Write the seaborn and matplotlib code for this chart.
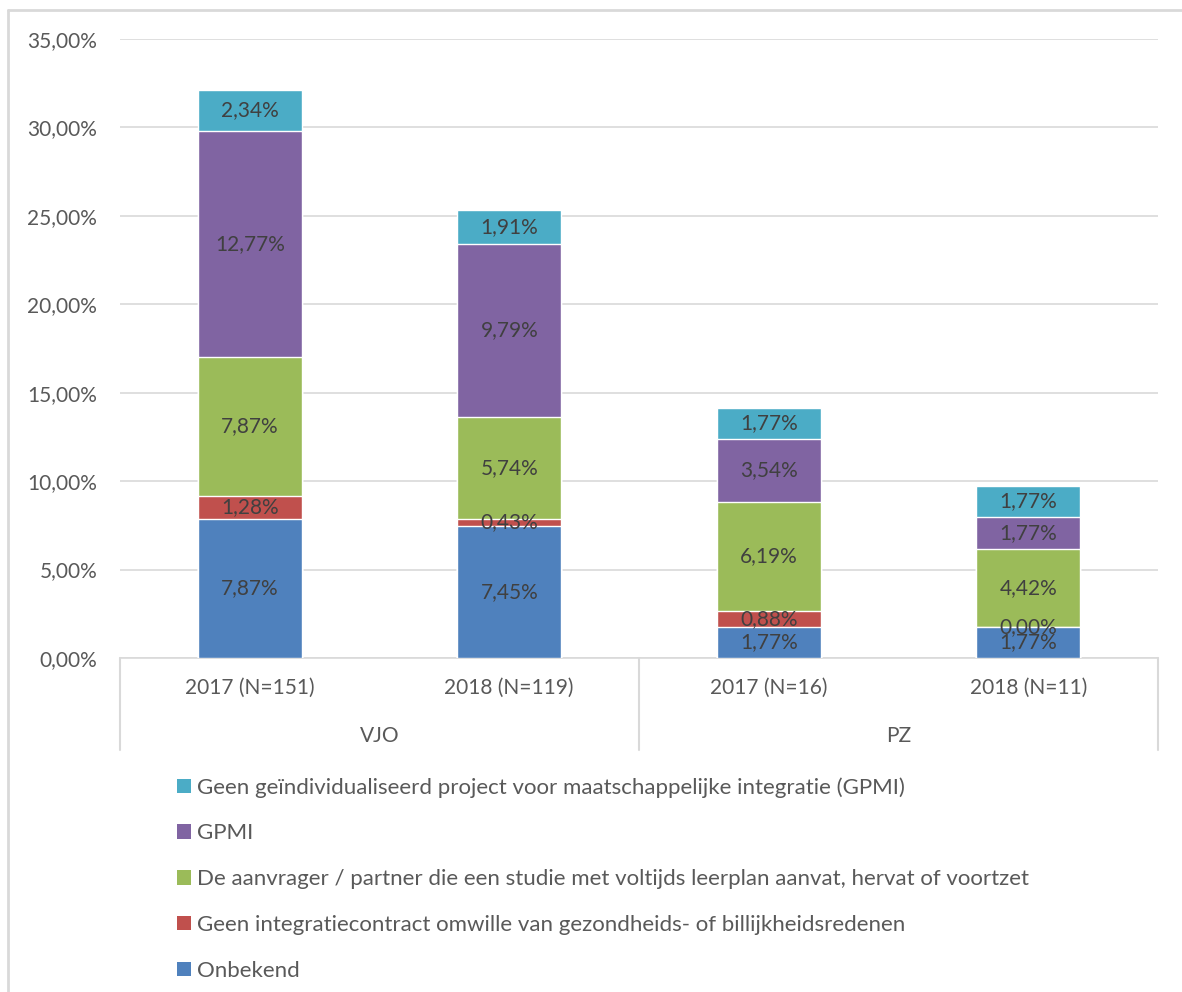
import matplotlib
matplotlib.use("Agg")
import matplotlib.pyplot as plt
from matplotlib.patches import Patch
from matplotlib.lines import Line2D
import seaborn as sns
import numpy as np
import pandas as pd

# ---- data ----
categories = ["2017 (N=151)", "2018 (N=119)", "2017 (N=16)", "2018 (N=11)"]
groups = ["VJO", "PZ"]
series_names = [
    "Onbekend",
    "Geen integratiecontract omwille van gezondheids- of billijkheidsredenen",
    "De aanvrager / partner die een studie met voltijds leerplan aanvat, hervat of voortzet",
    "GPMI",
    "Geen geïndividualiseerd project voor maatschappelijke integratie (GPMI)",
]
onbekend = [7.87, 7.45, 1.77, 1.77]
geen_contract = [1.28, 0.43, 0.88, 0.00]
studie = [7.87, 5.74, 6.19, 4.42]
gpmi = [12.77, 9.79, 3.54, 1.77]
geen_gpmi = [2.34, 1.91, 1.77, 1.77]
colors = ["#4F81BD", "#C0504D", "#9BBB59", "#8064A2", "#4BACC6"]
yticks = [0, 5, 10, 15, 20, 25, 30, 35]

series = [onbekend, geen_contract, studie, gpmi, geen_gpmi]

sns.set_theme(style="white")
plt.rcParams["font.family"] = ["Lato", "DejaVu Sans"]
TXT = "#595959"
LBL = "#404040"
GRID = "#D9D9D9"
FS = 15

W, H = 1182, 992
fig = plt.figure(figsize=(W / 100, H / 100), dpi=100)
x0, x1, ytop, ybot = 120, 1158, 39, 658
ax = fig.add_axes([x0 / W, 1 - ybot / H, (x1 - x0) / W, (ybot - ytop) / H])

# stacked bars drawn as cumulative totals, largest first
cum = np.cumsum(np.array(series), axis=0)
for i in range(len(series) - 1, -1, -1):
    df = pd.DataFrame({"cat": categories, "val": cum[i]})
    sns.barplot(data=df, x="cat", y="val", color=colors[i], width=0.4,
                saturation=1, ax=ax, zorder=3, order=categories)

# labels
for i, s in enumerate(series):
    bottoms = cum[i] - np.array(s)
    for j, v in enumerate(s):
        ax.text(j, bottoms[j] + v / 2, f"{v:.2f}%".replace(".", ","),
                ha="center", va="center", fontsize=FS, color=LBL, zorder=5)

ax.set_ylim(0, 35)
ax.set_xlim(-0.5, 3.5)
ax.set_yticks(yticks)
ax.set_yticklabels([f"{t:.2f}%".replace(".", ",") for t in yticks])
ax.tick_params(axis="y", labelsize=FS, colors=TXT, length=0, pad=16.5)
ax.set_xticks([])
ax.set_xlabel("")
ax.set_ylabel("")
ax.grid(axis="y", color=GRID, linewidth=1.2, zorder=0)
ax.set_axisbelow(True)
for sp in ["top", "right", "left"]:
    ax.spines[sp].set_visible(False)
ax.spines["bottom"].set_color(GRID)
ax.spines["bottom"].set_linewidth(1.2)

# multi-level category axis
axh = ybot - ytop
def ay(py):
    return (ybot - py) / axh

tr = ax.get_xaxis_transform()
for j, c in enumerate(categories):
    ax.text(j, ay(688), c, transform=tr, ha="center", va="center",
            fontsize=FS, color=TXT)
for g, xc in zip(groups, [0.5, 2.5]):
    ax.text(xc, ay(736), g, transform=tr, ha="center", va="center",
            fontsize=FS, color=TXT)
for xs in [-0.5, 1.5, 3.5]:
    ax.plot([xs, xs], [0, ay(750)], transform=tr, color=GRID, lw=1.5,
            clip_on=False)

# outer border (left & top)
fig.add_artist(Line2D([8 / W, 8 / W], [0, 1 - 10 / H], color=GRID, lw=2,
                      transform=fig.transFigure))
fig.add_artist(Line2D([8 / W, 1], [1 - 10 / H, 1 - 10 / H], color=GRID, lw=2,
                      transform=fig.transFigure))

# legend
handles = [Patch(facecolor=colors[i], edgecolor="none", label=series_names[i])
           for i in range(len(series) - 1, -1, -1)]
leg = fig.legend(handles=handles, loc="upper left",
                 bbox_to_anchor=(177 / W, 1 - 777 / H),
                 frameon=False, fontsize=16, handlelength=0.63,
                 handleheight=0.63, handletextpad=0.25, labelspacing=1.16,
                 borderpad=0, borderaxespad=0)
for t in leg.get_texts():
    t.set_color(TXT)

fig.savefig("out.png", dpi=100)
